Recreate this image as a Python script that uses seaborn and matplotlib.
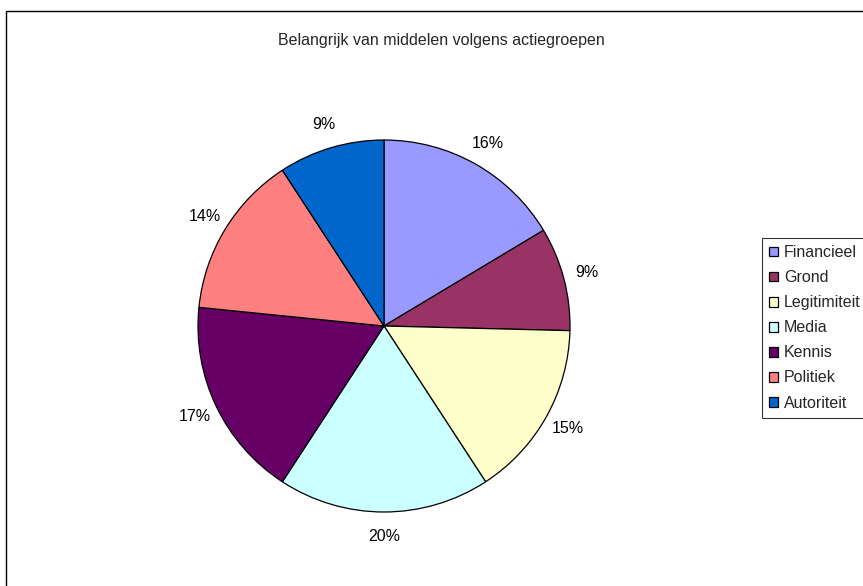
import matplotlib
matplotlib.use('Agg')
import matplotlib.pyplot as plt
import seaborn as sns
from matplotlib.patches import Rectangle

# Gegevens
categorieen = ['Financieel', 'Grond', 'Legitimiteit', 'Media', 'Kennis', 'Politiek', 'Autoriteit']
aandelen = [16.4, 9.0, 15.4, 18.4, 17.4, 14.2, 9.2]
pct_labels = ['16%', '9%', '15%', '20%', '17%', '14%', '9%']
kleuren = ['#9999FF', '#993366', '#FFFFCC', '#CCFFFF', '#660066', '#FF8080', '#0066CC']

sns.set_theme(style='white')
plt.rcParams['font.family'] = ['Liberation Sans', 'DejaVu Sans']

fig = plt.figure(figsize=(8.63, 5.86), dpi=100)
fig.patch.set_facecolor('white')

# Kader van het grafiekgebied (loopt rechts en onder buiten beeld)
fig.patches.append(Rectangle((5.5 / 863, -0.2), 1.2, 1.2 - 11 / 586,
                             transform=fig.transFigure, fill=False,
                             edgecolor='black', linewidth=1))

ax = fig.add_axes([198 / 863, 74 / 586, 372 / 863, 372 / 586])
palet = sns.color_palette(kleuren)
wedges, teksten = ax.pie(aandelen, labels=pct_labels, colors=palet, startangle=90,
                         counterclock=False, labeldistance=1.13,
                         wedgeprops={'edgecolor': 'black', 'linewidth': 0.9},
                         textprops={'fontsize': 11.5, 'color': 'black'})
for t in teksten:
    t.set_horizontalalignment('center')
    t.set_verticalalignment('center')
ax.set_xlim(-1, 1)
ax.set_ylim(-1, 1)
ax.set_aspect('equal')
ax.axis('off')

fig.text(441 / 863, 1 - 40 / 586, 'Belangrijk van middelen volgens actiegroepen',
         ha='center', va='center', fontsize=11.5)

leg = fig.legend(wedges, categorieen, loc='upper left',
                 bbox_to_anchor=(762 / 863, 1 - 238 / 586),
                 frameon=True, fancybox=False, shadow=False, fontsize=11.5,
                 handlelength=0.56, handleheight=0.56, handletextpad=0.37,
                 labelspacing=0.63, borderpad=0.45, borderaxespad=0)
leg.get_frame().set_edgecolor('black')
leg.get_frame().set_linewidth(0.8)

fig.savefig('out.png', dpi=100)
